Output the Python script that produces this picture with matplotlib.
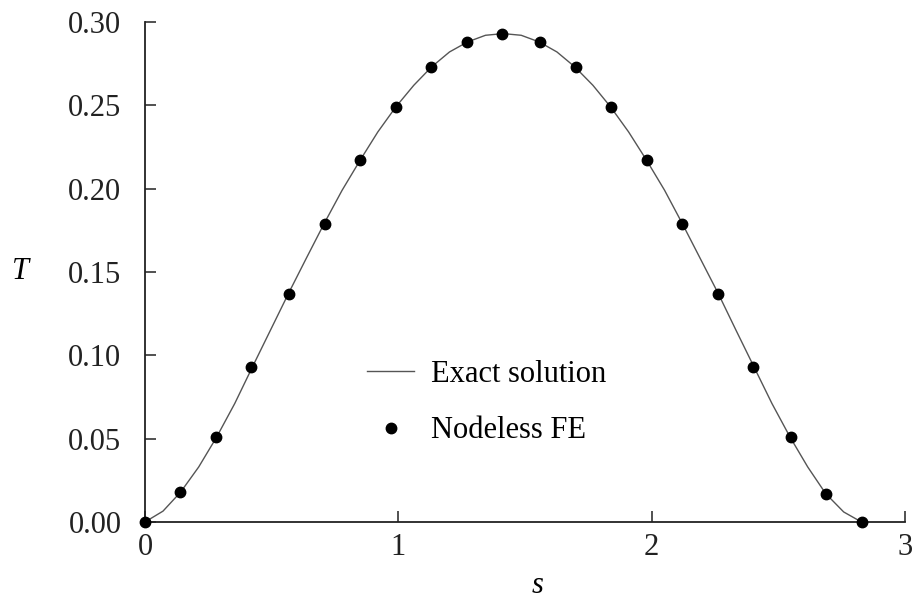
import numpy as np
import matplotlib
matplotlib.use("Agg")
import matplotlib.pyplot as plt

plt.rcParams['font.family'] = ['Liberation Serif', 'DejaVu Serif']
plt.rcParams['mathtext.fontset'] = 'stix'

# nodeless FE results at the element nodes
s_nodes = [0.00, 0.14, 0.28, 0.42, 0.57, 0.71, 0.85, 0.99, 1.13, 1.27, 1.41,
           1.56, 1.70, 1.84, 1.98, 2.12, 2.26, 2.40, 2.55, 2.69, 2.83]
T_nodes = [0.000, 0.018, 0.051, 0.093, 0.137, 0.179, 0.217, 0.249, 0.273, 0.288, 0.293,
           0.288, 0.273, 0.249, 0.217, 0.179, 0.137, 0.093, 0.051, 0.017, 0.000]

# exact solution, sampled at half node spacing
s_exact = [0.000, 0.071, 0.141, 0.212, 0.283, 0.354, 0.424, 0.495, 0.566, 0.636,
           0.707, 0.778, 0.849, 0.919, 0.990, 1.061, 1.131, 1.202, 1.273, 1.344,
           1.414, 1.485, 1.556, 1.626, 1.697, 1.768, 1.838, 1.909, 1.980, 2.051,
           2.121, 2.192, 2.263, 2.333, 2.404, 2.475, 2.546, 2.616, 2.687, 2.758, 2.828]
T_exact = [0.000, 0.0065, 0.018, 0.033, 0.051, 0.071, 0.093, 0.115, 0.137, 0.158,
           0.179, 0.199, 0.217, 0.234, 0.249, 0.262, 0.273, 0.282, 0.288, 0.292,
           0.293, 0.292, 0.288, 0.282, 0.273, 0.262, 0.249, 0.234, 0.217, 0.199,
           0.179, 0.158, 0.137, 0.115, 0.093, 0.071, 0.051, 0.033, 0.017, 0.006, 0.000]

xticks = [0, 1, 2, 3]
yticks = [0.00, 0.05, 0.10, 0.15, 0.20, 0.25, 0.30]

fs = 22

fig = plt.figure(figsize=(9.16, 6.13), dpi=100)
ax = fig.add_axes([0.1583, 0.1485, 0.8297, 0.8157])

ax.plot(s_exact, T_exact, color='#555555', linewidth=1.0, label='Exact solution')
ax.plot(s_nodes, T_nodes, linestyle='none', marker='o', markersize=7.5,
        color='black', label='Nodeless FE', clip_on=False, zorder=3)

ax.set_xlim(0, 3)
ax.set_ylim(0, 0.30)
ax.set_xticks(xticks)
ax.set_xticklabels([str(t) for t in xticks])
ax.set_yticks(yticks)
ax.set_yticklabels(['%.2f' % t for t in yticks])

for side in ['top', 'right']:
    ax.spines[side].set_visible(False)
for side in ['left', 'bottom']:
    ax.spines[side].set_linewidth(1.3)
    ax.spines[side].set_color('#222222')

ax.tick_params(direction='in', length=8, width=1.1, labelsize=fs, colors='#222222')
ax.tick_params(axis='y', pad=17)
ax.tick_params(axis='x', pad=8)

ax.set_xlabel('s', fontsize=fs, style='italic')
ax.xaxis.set_label_coords(0.516, -0.098)
ax.set_ylabel('T', fontsize=fs, style='italic', rotation=0, va='center', ha='center')
ax.yaxis.set_label_coords(-0.164, 0.5)

ax.legend(loc='upper left', bbox_to_anchor=(367 / 916, 1 - 360 / 613),
          bbox_transform=fig.transFigure, frameon=False, fontsize=fs,
          handlelength=1.55, handletextpad=0.55, labelspacing=0.9,
          borderpad=0, borderaxespad=0)

fig.savefig('out.png', dpi=100)
